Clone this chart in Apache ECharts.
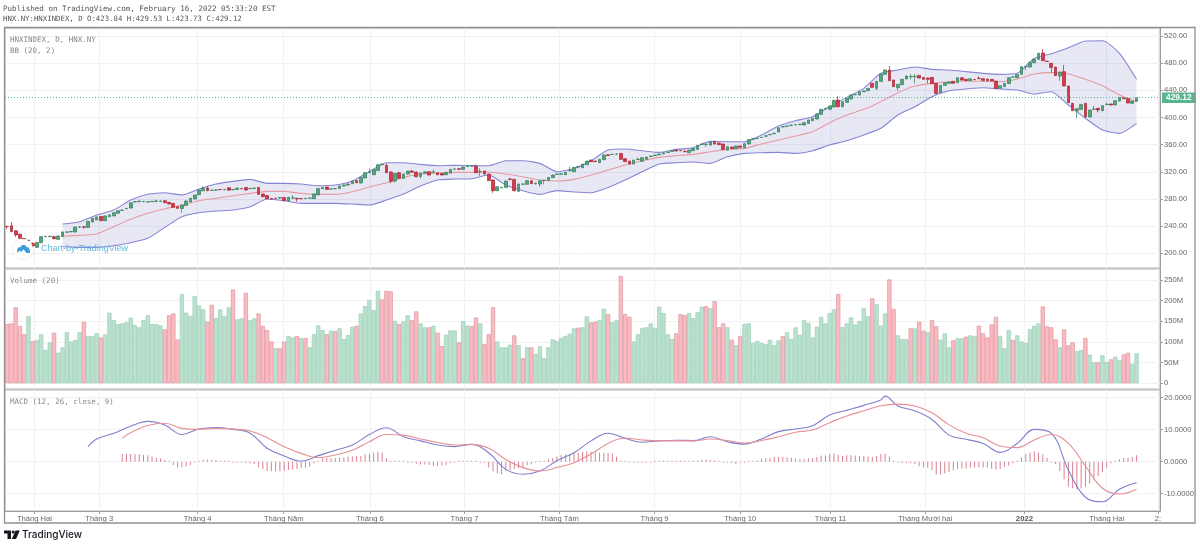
<!DOCTYPE html>
<html><head><meta charset="utf-8">
<style>html,body{margin:0;padding:0;background:#fff}#c{width:1200px;height:547px}</style>
<script src="https://cdn.jsdelivr.net/npm/echarts@6/dist/echarts.min.js"></script>
</head><body><div id="c"></div>
<script>
const opens=[239.5,240.5,233,228,221.5,219,214.5,208.7,215.5,224.5,
224.5,224.5,220.5,224.5,231,231.5,231.3,238.5,239,238,
246,249,254,248,254,255,259,263,265.5,266.6,
275.5,276,276,275.5,276,276.5,276.5,277.4,275,273.5,
268.6,266,270.5,275.5,280,286.3,292,296,292.5,293,
294,293.5,296.5,293.5,294,295.5,297,295,295.5,297,
287.3,285,280.5,281,281.5,282.3,277,281.5,281,280.5,
280.5,281,280.4,286,295,297.5,294.5,295,295.5,299,
300.5,302.5,307,303.5,311,319,315.7,322,330.5,329.5,
319.7,306.4,318.7,310.3,316.7,321,319.6,313,318,320.1,
319.5,318.6,317.7,315.7,318.2,323.8,324.5,323.6,328,328.5,
328.5,320,321,316.7,307.9,292.2,296.5,297,309.5,308.8,
291.2,301.7,301.5,306.9,302.5,302,307.2,307.4,311.3,316.2,
316.5,315.7,321.5,320.1,327,326,330.4,337.3,335.8,333.4,337.8,
345,345.5,346,347.1,339.3,335.8,331.4,338,335.4,338.3,
342.5,344,345,346.5,348.5,350,352,351.5,349.8,
348.1,351,353,360.5,360.3,359.4,364.8,362.4,360.9,352,
356.5,354,358,355.5,361,368,369,370.5,372.5,374.5,
376,378.6,386,387,388.5,389,389.5,388.9,391.3,395.3,
397.7,404.6,413,412,415.4,425.7,415.9,422.3,427.2,433.5,
433.1,438,439.5,450.3,442.9,453.2,463.5,469.9,455.2,443.9,
448.3,456.7,460,460,462,459,458.1,459.1,450.3,436.5,
447.3,450.3,453.2,451.2,458.6,456.2,454.2,456,457.6,457.1,
456.7,456.2,453.7,442.9,445.4,449.8,459.5,458.6,463.5,474.8,
474.3,480.7,485.6,495,483,479.7,474.3,461.1,467.5,446.3,
420.8,409.5,412,420.8,400.7,412,413.5,410,419,419.8,
418.4,424.2,429.1,427.7,420.8,423.84];
const closes=[239,232,227,222,221,218.5,211,216,224.5,224.8,
225,221.5,225.5,231.3,231.5,232,238.6,238.8,238.5,247,
251.5,253.5,248,255,256.5,259.8,262.8,263.5,266,274.5,
276,276.5,276.3,276,276.5,277,277,274.5,272.5,267.6,
266.2,271,277,281,285.8,293.2,295.6,292.2,293,293.3,
293.7,294,293,294,296,295,293.1,295.5,296,286.8,
283.3,280.4,280,280.8,282,277.4,282.5,281.6,280,280.3,
281,281.5,287.3,295.2,297,294.1,294.8,295.5,299,300.5,
302,306.4,304,311.8,318.7,320,323.6,330.4,331.5,318.7,
306,317.7,310.5,316.7,321.1,319.5,312.8,318.2,320.1,315.2,
319.7,315.7,315.2,319.2,323.6,324.2,323.6,327,329,329,
318.7,320.4,316.7,306.9,292.2,298,297.2,306.4,308.8,292.2,
302,302,306.9,302.5,303.2,306.9,307.6,311.8,315.2,316.8,
317,319.2,322,326.5,327.5,331.4,335.8,334.9,335,338.3,344.7,
344,345.7,346.2,338.3,334.9,331.4,337.3,338.5,340.8,341.7,
343.2,344.7,346.2,348.1,349.1,351,350.6,351,349.6,
352,354.5,359,361,360.7,364.3,360.9,359.9,353,357,
354,358,356,361.4,367.3,368.5,369.3,370.8,373,375,
376.8,384.9,386.5,387.5,388.8,389.4,390,392.3,396.3,398.7,
405.1,412,413.5,416.9,425.2,415.9,423.3,428.2,433.1,434,
438,439,442.9,444.4,453.2,464,469.9,454.2,445.4,448.8,
456.2,461.1,460.5,460.5,458.1,456.2,456.2,449.8,435.5,447.3,
451.2,452.2,450.3,458.6,455.2,454.2,457.1,455.6,457.2,454.7,
454.2,453.7,442.4,446.8,450.3,458.6,459.7,463,474.8,475,
481.2,485.6,494.5,483.7,482.4,473.8,461.6,467,446.3,421.8,
410,413,419.3,401.2,411,412.5,411,417.4,419.5,418.4,
424.7,429.6,427.7,421.3,424.2,429.12];
const lows=[236,231,224,221,220.5,217,209,208,215,224,
224,220.5,220,224,230.5,231,231,238,236,237.5,
246,249,247.5,247.5,253.5,254.5,258.5,262.5,265,266,
275,275.5,275.5,275,275.5,276,276,274,272,267,
265.5,259.7,270,275,279.5,286,291.5,291.5,292,292.5,
293,293,292.5,293,293.5,294.5,292.5,294.5,295,286,
282.5,280,279.5,280.3,281,277,276.5,280,276,279.8,
280,280.5,280,285.5,294.5,293.5,294,294.5,295,298.5,
300,302,303.5,303,310.5,318,315,321.5,330,318,
303,304,310,310,316,319,312,310,317.5,315,
318.5,315,314.5,315,318,323.3,323,323,327.5,328,
318,313.8,316,306.5,289,291.5,296,296.5,307.5,291,
290,301,301,302,301,298,301.5,307,311,315.8,
316,315.3,321,319.7,326.5,325.6,330,334.5,334.5,333,337.4,
343.5,345,345.5,337.8,334.4,331,331,337.5,335,338,
342,343.5,344.5,346,348,349.5,350.2,350.5,349.2,
347.7,350.6,352.6,360,357,359,360.5,359.5,352.6,351.6,
353.6,353.6,355.6,355,360.6,367.5,368.5,370,372,374,
375.5,378.2,385.5,386.5,388,388.6,389,388.5,391,395,
397.3,404.2,412.5,411.6,415,415,415.5,422,426.8,433,
432.7,437.5,439,444,440.4,452.8,463,453.8,445,439.5,
447.9,456.3,456,450.3,457.7,455.8,450.3,449.4,435,436,
446.9,449.9,449.9,450.8,454.8,453.8,453.8,455.2,456.8,454.3,
453.8,453.3,442,442.5,445,449.4,459,458.2,463.1,470,
473.9,480.3,485.2,483.3,482,466,461.2,454.2,445.9,421.4,
409.6,398.7,411.6,399,400.3,411.5,407.6,409.6,418.5,418,
418,423.8,427.3,420.9,420.4,423.73];
const highs=[241,246,234,229,222,220,216,216.5,225,226,
226,226,226,232,232,232.5,239,239.5,240,247.5,
252,254,254.5,255.5,257,260,263,264.5,267,275,
277,279,277,276.5,277,279,277.5,278,275.5,274,
269,271.5,277.5,281.5,286,293.5,299,298,293.5,294,
294.5,294.5,297,294.5,296.5,296,297.5,296,296.5,297.5,
288,285.5,281,281.5,282.5,282.8,283,285.8,281.5,281,
281.5,282,287.8,295.6,297.5,298,295.5,296,299.5,301,
302.5,307,307.5,312,319,325,324,331,332,332,
321,318,319.5,317,321.5,323,320,318.5,320.5,320.5,
323.5,319,318,319.5,324,324.8,325,327.5,329.5,330,
331,325,321.5,317,309,298.5,298,306.8,311,310,
302.5,302.5,307.3,307.3,304,307.3,308,312.2,315.7,317.2,
317.5,319.6,327.5,327,328,331.8,336.2,337.8,336.3,338.7,345.1,
345.5,346.2,346.7,347.6,339.8,336.2,337.7,341.2,341.2,342.1,
343.7,345.2,346.7,348.5,349.6,351.5,352.5,352,353,
352.4,355,359.4,361.5,361.2,364.7,365.3,362.9,361.3,357.4,
357,358.4,358.5,361.8,367.7,369,369.8,371.3,373.5,375.5,
377.3,385.3,387,388,389.3,389.9,390.5,392.7,396.7,399.1,
405.5,412.4,414,417.3,425.6,431.6,423.7,428.6,433.5,434.5,
438.4,439.5,443.3,450.7,453.6,464.4,470.3,475.8,455.6,449.2,
456.6,461.5,464,464,462.4,459.4,458.5,459.5,450.7,447.7,
451.6,452.6,453.6,459,459,456.6,457.5,456.5,461,457.5,
457.1,456.6,454.1,447.2,450.7,459,460.2,463.4,475.2,475.5,
481.6,486,494.9,500.8,483.5,480.1,474.7,467.4,477.3,446.7,
421.2,413.4,419.7,421.2,411.4,416.9,413.9,417.8,422,420.2,
425.1,430,429.5,428.1,424.6,429.53];
const volumes=[143.5,145,184,139,119,163,102,105,118.5,81,
99,122.5,74,87,124,101,105,124,149,114.5,
114.5,121,111,118,171,153,143.5,145,147.5,159,
141,135.5,153,164.5,143.5,143.5,140,130.5,164.5,169,
106,216,171,163,211,188.5,179,149,190,158,
179,163,184,227,155,157,219,153,157,169,
139,129,101.5,85,85,101,114.5,111,114.5,109.5,
109.5,87,119,140,129,119,127,126,133,107,
117,137,139,169,187,201.5,177,224,203,224,
222.5,151,143.5,150,164.5,153,174,145,135.5,135.5,
139.5,122.5,90,117.5,128,128,99,150.5,140,138.5,
159.5,145,95,119,184,101,87,87,93.5,116,
92.5,60.5,87,87,71,89.5,61,87,106.5,102.5,
110,114.5,120,133,134.5,135.5,162,147.5,149,153,180.5,
167.5,148,153,260,167.5,161,101,119,134,135.5,
145,134,185.5,170,118.5,107,121,167.5,165,
170,158,172.5,185.5,187,181.5,199,135.5,145,135.5,
105.5,92,114.5,143.5,145,97.5,102.5,97.5,95,105.5,
92,104,114.5,123.5,107,135.5,117.5,152.5,146,111,
137,161,145,170,179,216,136,145,159.5,142.5,
150.5,181.5,163,205.5,191,139.5,169,251.5,180,116,
107,107,133,133,149,127.5,123.5,153,138,105.5,
121,87,104,109,109,113,116,114.5,139.5,121,
111,142.5,161,114.5,85,129,105,116,101.5,97.5,
131,139.5,145,186,138,135.5,106.5,87,130.5,92,
99,78,80.5,109.5,69.5,51,51,67.5,51.5,58,
64.5,56.5,70,74,47.5,72.5];
const volumeUp=[0,0,0,0,0,1,0,1,1,1,
1,0,1,1,1,1,1,1,0,1,
1,1,0,1,1,1,1,1,1,1,
1,1,1,1,1,1,1,0,0,0,
0,1,1,1,1,1,1,0,0,1,
1,1,1,0,1,1,0,1,1,0,
0,0,0,1,0,0,1,1,0,1,
0,1,1,1,1,0,1,0,1,1,
1,1,0,1,1,1,1,1,0,0,
0,1,0,1,1,0,0,1,1,0,
1,0,0,1,1,1,0,1,1,0,
0,1,0,0,0,1,1,1,1,0,
1,0,1,0,1,1,1,1,1,1,
1,1,1,1,0,1,1,0,0,1,1,
0,1,1,0,0,0,1,1,1,1,
1,1,1,1,1,1,0,0,0,
1,1,1,1,0,1,0,0,0,1,
0,1,0,1,1,1,1,1,1,1,
1,1,0,1,1,1,1,1,1,1,
1,1,1,1,1,0,1,1,1,1,
1,1,1,0,1,1,1,0,0,1,
1,1,0,1,0,0,1,0,0,1,
1,1,0,1,1,0,1,1,0,0,
0,0,0,1,1,1,0,1,1,1,
1,1,1,0,0,0,0,1,0,0,
0,1,1,0,1,1,0,1,1,0,
1,1,0,0,1,1];
const monthTicks=[6.4,21.6,44.7,64.9,85.1,107.3,129.6,151.9,172,193.2,215.4,238.7,258,270];
const monthLabels=['Tháng Hai','Tháng 3','Tháng 4','Tháng Năm','Tháng 6','Tháng 7','Tháng Tám','Tháng 9','Tháng 10','Tháng 11','Tháng Mười hai','2022','Tháng Hai','2:'];
const priceTicks=[200,240,280,320,360,400,440,480,520];
const volumeTicks=[0,50,100,150,200,250];
const macdTicks=[-10,0,10,20];
const lastClose=429.12;
const bbUpper=[243,246.5,256.3,263.7,278.4,286.8,289.2,285.8,294.6,302,305.9,308.8,303,303,302,299.5,300.5,306.4,320.1,333.4,
333.4,330.9,329,329.5,329,329,336.3,336.3,332.4,320.1,325,336.3,352,353.5,351,348.6,353,355.5,364.8,364.3,364.3,374.1,387.4,395.3,
401.2,415.9,429.6,442.9,465,469.9,474.3,470.9,469.9,467.5,465,463.5,465,487.1,494,502.8,512.6,513.1,494.5,456.2];
const bbBasis=[225.4,226.4,228.3,239.1,250,258.8,265.6,270.5,277.4,280.9,284.8,288.2,291.2,291.2,288.2,286.8,286.8,290.7,297.5,303.9,
311.8,316.7,318.2,319.2,319.2,319.6,316.7,312.8,307.9,306.4,308.8,315.2,322.6,330,336.3,341.3,343.7,345.7,349.6,353,354.5,360.9,366.8,372.7,
379.1,392.3,403.6,412,423.3,436.5,446.3,450.3,452.7,453.7,453.2,452.7,456.6,464,466,464,456.2,446.8,433.1,423.3];
const bbLower=[209.7,208.7,208.7,211.1,215.6,222,238.1,253.9,259.7,262.2,263.7,268.6,279.9,277.4,273.5,273.5,273.5,272.5,271,278.4,
287.2,299,307.9,309.3,309.8,315.2,300.5,292.2,286.7,292.2,290.2,289.2,297,307.9,320.1,331.4,333.4,334.4,332.4,342.2,347.1,348.1,348.6,347.1,
351.1,359.4,365.8,374.2,384,403.6,415.9,430.6,439.5,442,443.9,442,440.5,434.6,438,418.4,398.7,381.5,376.6,391.4];
const macdLine=[4.7,7.1,8.9,11.1,12.6,11.5,8.5,10.2,10.7,10.1,8.9,4.2,1.8,0.2,1.9,3.6,5.2,8.5,10.6,
7.8,6.5,5.2,4.7,5.4,2.8,-2.4,-3.9,-2.9,0.3,2.8,6.5,8.9,7.3,6.1,6.5,6.7,6.6,7.8,6.25,5.5,7.1,9.4,10.2,
11.25,14.6,16.1,17.6,19.3,20.5,17.4,15.9,13.2,8.3,7,5.7,2.9,5.7,10.1,8.9,-2.6,-11.1,-12.5,-8.6,-6.6];
const signalLine=[7.3,9.1,11.3,12,10.4,10.1,10.4,10.2,9.6,7.5,4.7,2.6,1.25,2.1,3.6,6.25,8.5,
8.3,7.1,6,5.2,5.4,4.2,0.7,-1.8,-2.9,-1.8,-0.3,2.4,5.7,7.4,6.8,6.5,6.5,6.5,7.1,6.6,5.8,6.6,7.8,9.2,
9.9,12.2,14.3,15.9,17.5,18,17.4,15.3,11.5,8.9,7.5,4.9,4.4,6.8,8.5,5.7,-1.35,-8.3,-10.1,-8.6];
const macdHist=[2.4,2.4,2.4,2.4,2.4,2.1,2,1.6,1.2,1,.5,0,-1,-1.8,-1.8,-1.4,-1,-.3,.3,.7,
.7,.6,.5,.2,0,0,-.2,-.2,-.3,-.4,-.5,-.7,-1.8,-2.3,-2.9,-3,-3,-3,-2.9,-2.6,
-2.4,-2.3,-2,-1.9,-1.6,-.5,.2,1.1,1.1,1.1,1.1,1.3,1.3,1.6,1.6,1.8,1.8,2.3,2.4,2.8,
3,2.8,1,.3,.1,
.1,.1,-.2,-.3,-.6,-.9,-.9,-1,-1.25,-1.25,
-1.25,-1,-.5,-.1,.1,.2,.1,.1,0,-.2,
-.3,-1.8,-3,-3.6,-3.9,-2.8,-2.6,-2.3,-2,-1.8,
-1.1,-.8,-.3,0,.1,.8,1.1,1.6,2.2,2.3,
2.4,2.8,2.8,3,3.2,3.2,2.9,2.8,2.8,2.8,
2.6,1.6,.3,0,-.2,-.3,-.3,-.2,-.1,-.1,
0,0,0,.1,.1,.1,0,0,.1,.3,
.4,.6,.7,.5,.4,.3,-.1,-.3,-.4,-.7,
-.3,-.1,.2,.3,.4,.9,1.1,1.1,1.5,1.5,
1.5,1.3,1.2,1,
.8,.8,1,1.1,1.5,1.9,2,2.4,2.6,2.1,
1.8,2,2,1.9,1.8,1.8,1.6,1.5,1.8,2.4,
2.6,1.6,.2,-.3,-.5,-.5,-.5,-.7,-1.4,-1.8,
-1.9,-2.6,-4,-4,-3.6,-3.1,-2.7,-2.3,-2.1,-2.1,
-1.9,-1.8,-1.8,-1.8,-1.8,-2.2,-2.4,-2.3,-1.6,-1.25,
-.5,.3,1.4,2.4,2.9,3.3,2.9,2.3,1.25,-.1,
-.7,-2.9,-5.5,-7.8,-8.3,-8.6,-8.4,-7.8,-6.8,-5.5,
-4.5,-3.1,-1.8,-.5,.3,.8,1.25,1.25,1.5,2];

const HIST_START=27, BAR_SLOTS=271;
const every4=(a,b)=>{const r=[];for(let i=a;i<=b;i+=4)r.push(i);return r;};
const bbBars=every4(13,265);
const macdBars=[19,...every4(21,205),206,...every4(209,265)];
const signalBars=[27,...every4(29,265)];
const categories=Array.from({length:BAR_SLOTS},(_,i)=>String(i));
const sparse=(bars,vals)=>{const a=categories.map(()=>null);bars.forEach((b,k)=>{a[b]=vals[k];});return a;};

const MONO='"DejaVu Sans Mono","Liberation Mono",monospace', SANS='"Liberation Sans",Arial,sans-serif';
const GRID='#eff1f5', LINEG='#9c9c9c', LAB='#666';
const grids=[{left:5,width:1155,top:28,height:240},{left:5,width:1155,top:269,height:120},{left:5,width:1155,top:390,height:121}]
  .map(g=>({...g,show:true,borderColor:'#b0b0b0',borderWidth:1,backgroundColor:'#fff'}));
const catAxes=[0,1,2].map(g=>({type:'category',gridIndex:g,data:categories,show:false,boundaryGap:true}));
const monthAxes=[0,1,2].map(g=>({type:'value',gridIndex:g,min:-0.5,max:270.5,position:'bottom',
  axisLine:{show:g===2,onZero:false,lineStyle:{color:LINEG}},
  axisTick:{show:g===2,length:3,customValues:monthTicks,lineStyle:{color:LINEG}},
  axisLabel:{show:g===2,customValues:monthTicks,color:LAB,fontFamily:SANS,fontSize:7.6,margin:4,hideOverlap:false,showMinLabel:true,showMaxLabel:true,
    formatter:v=>{const s=monthLabels[monthTicks.indexOf(v)];return s==='2022'?'{b|2022}':s;},
    rich:{b:{fontWeight:'bold',color:'#555',fontFamily:SANS,fontSize:7.8}}},
  splitLine:{show:true,lineStyle:{color:GRID,width:1}}}));
const yAxis=(g,min,max,ticks,fmt)=>({type:'value',gridIndex:g,position:'right',min,max,scale:true,
  axisLine:{show:true,onZero:false,lineStyle:{color:LINEG}},
  axisTick:{show:true,length:3,customValues:ticks,lineStyle:{color:LINEG}},
  axisLabel:{customValues:ticks,color:LAB,fontFamily:SANS,fontSize:7.6,margin:4,formatter:fmt,hideOverlap:false,showMinLabel:true,showMaxLabel:true},
  splitLine:{show:true,lineStyle:{color:GRID,width:1}}});

const lineS=(name,g,data,color,z,smooth)=>({name,type:'line',xAxisIndex:g,yAxisIndex:g,data,connectNulls:true,showSymbol:false,symbol:'none',smooth,z:z,silent:true,
  lineStyle:{color,width:1.1}});

const option={animation:false,backgroundColor:'#fff',tooltip:{show:false},
 grid:grids,xAxis:[...catAxes,...monthAxes],
 yAxis:[yAxis(0,178.3,531.8,priceTicks,v=>v.toFixed(2)),
        yAxis(1,-13.8,276.6,volumeTicks,v=>v===0?'0':v+'M'),
        yAxis(2,-15.4,22.4,macdTicks,v=>v.toFixed(4))],
 series:[
  {name:'BB band',type:'custom',xAxisIndex:0,yAxisIndex:0,silent:true,z:1,
   data:bbBars.map((b,k)=>[b,bbLower[k],bbUpper[k]]),encode:{x:0,y:[1,2]},
   renderItem:(params,api)=>{
     if(params.dataIndex!==0)return null;
     const top=bbBars.map((b,k)=>api.coord([b,bbUpper[k]]));
     const bot=bbBars.map((b,k)=>api.coord([b,bbLower[k]])).reverse();
     return {type:'polygon',shape:{points:top.concat(bot)},style:{fill:'rgba(50,50,165,0.115)'}};
   }},
  lineS('BB upper',0,sparse(bbBars,bbUpper),'#8585d6',2,0.2),
  lineS('BB lower',0,sparse(bbBars,bbLower),'#8585d6',2,0.2),
  lineS('BB basis',0,sparse(bbBars,bbBasis),'#e79a9f',2,0.2),
  {name:'HNXINDEX',type:'candlestick',xAxisIndex:0,yAxisIndex:0,barWidth:3.2,z:3,silent:true,
   data:opens.map((o,i)=>[o,closes[i],lows[i],highs[i]]),
   itemStyle:{color:'#58a57f',borderColor:'#2f7f58',color0:'#d8394b',borderColor0:'#a82634',borderWidth:0.7},
   markLine:{silent:true,symbol:'none',animation:false,z:6,data:[{yAxis:lastClose,lineStyle:{color:'#55b890',type:[1,2],width:1}}],
     lineStyle:{color:'#55b890',type:[1,2],width:1},
     label:{show:true,position:'end',distance:2,formatter:lastClose.toFixed(2),color:'#fff',backgroundColor:'#58b68e',padding:[1.5,4,1,4],fontFamily:SANS,fontSize:8.4,fontWeight:'bold'}}},
  {name:'Volume',type:'bar',xAxisIndex:1,yAxisIndex:1,barWidth:'100%',silent:true,z:2,
   data:volumes.map((v,i)=>({value:v,itemStyle:volumeUp[i]?{color:'#b9e3cf',borderColor:'#a3cfba',borderWidth:0.8}:{color:'#ffb9c0',borderColor:'#d9a0a8',borderWidth:0.8}}))},
  {name:'Histogram',type:'bar',xAxisIndex:2,yAxisIndex:2,barWidth:1,barMinHeight:1,silent:true,z:2,
   data:sparse(macdHist.map((_,k)=>HIST_START+k),macdHist),itemStyle:{color:'#d9808f'}},
  lineS('MACD',2,sparse(macdBars,macdLine),'#7f7fce',3,0.4),
  lineS('Signal',2,sparse(signalBars,signalLine),'#e78f94',3,0.4)
 ],
 graphic:[
  {type:'rect',z:100,silent:true,shape:{x:4.5,y:27.5,width:1190.5,height:495.5},style:{fill:'none',stroke:'#909090',lineWidth:1.3}},
  {type:'text',z:100,x:3,y:5,style:{text:'Published on TradingView.com, February 16, 2022 05:33:20 EST',font:'7.55px '+MONO,fill:'#555'}},
  {type:'text',z:100,x:3,y:16,style:{text:'HNX.NY:HNXINDEX, D O:423.84 H:429.53 L:423.73 C:429.12',font:'7.35px '+MONO,fill:'#555'}},
  {type:'text',z:100,x:10,y:36,style:{text:'HNXINDEX, D, HNX.NY',font:'7.5px '+MONO,fill:'#888'}},
  {type:'text',z:100,x:10,y:47,style:{text:'BB (20, 2)',font:'7.5px '+MONO,fill:'#888'}},
  {type:'text',z:100,x:10,y:277,style:{text:'Volume (20)',font:'7.5px '+MONO,fill:'#888'}},
  {type:'text',z:100,x:10,y:398,style:{text:'MACD (12, 26, close, 9)',font:'7.5px '+MONO,fill:'#888'}},
  {type:'circle',z:50,silent:true,shape:{cx:23,cy:249,r:10},style:{fill:'#fff',shadowBlur:3,shadowColor:'rgba(0,0,0,0.12)'}},
  {type:'polygon',z:51,silent:true,shape:{points:[[17,253],[17,249.5],[18.5,247.5],[20.5,247],[22,245],[25,245],[26.5,247],[28.5,247.5],[30,250],[30,253],[26.5,253],[23.5,249.5],[21,252],[19.5,250.5]]},style:{fill:'#3c9fd9'}},
  {type:'text',z:100,x:41,y:244,style:{text:'Chart-by-TradingView',font:'9px '+SANS,fill:'#62b5dc'}},
  {type:'polygon',z:100,silent:true,shape:{points:[[4,530.5],[11,530.5],[11,539],[7.5,539],[7.5,533.5],[4,533.5]]},style:{fill:'#131722'}},
  {type:'circle',z:100,silent:true,shape:{cx:13.2,cy:532,r:1.5},style:{fill:'#131722'}},
  {type:'polygon',z:100,silent:true,shape:{points:[[15.5,530.5],[19.8,530.5],[16,539],[11.8,539]]},style:{fill:'#131722'}},
  {type:'text',z:100,x:22,y:529.5,style:{text:'TradingView',font:'500 10px Inter,'+SANS,fill:'#131722'}}
 ]};
echarts.init(document.getElementById('c')).setOption(option);
</script></body></html>
